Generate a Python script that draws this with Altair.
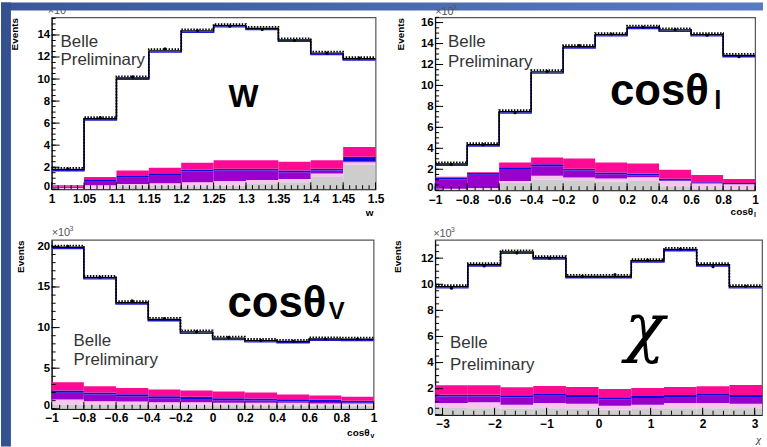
import altair as alt
import numpy as np
import pandas as pd

FONT = "Liberation Sans"

# ---------------- data (Events in units of 10^3) ----------------
COMP_NAMES = ["gray", "pink", "purple", "blue", "magenta"]
COMP_COLORS = ["#cdcdcd", "#f8c4f0", "#9900cc", "#0a0ad8", "#ff0a94"]

# --- w ---
W_EDGES = [1.0, 1.05, 1.1, 1.15, 1.2, 1.25, 1.3, 1.35, 1.4, 1.45, 1.5]
W_TOTAL = [1.80, 6.40, 10.10, 12.56, 14.37, 14.85, 14.60, 13.55, 12.35, 11.84]
W_DATA = [1.85, 6.50, 10.20, 12.75, 14.40, 14.80, 14.50, 13.50, 12.35, 11.90]
W_GRAY = [0.00, 0.05, 0.27, 0.30, 0.27, 0.33, 0.54, 0.63, 1.11, 2.23]
W_PINK = [0.12, 0.36, 0.48, 0.54, 0.63, 0.75, 0.84, 0.93, 1.42, 2.44]
W_PURPLE = [0.18, 0.74, 1.05, 1.30, 1.62, 1.70, 1.70, 1.53, 1.70, 2.55]
W_BLUE = [0.22, 0.90, 1.20, 1.46, 1.78, 1.86, 1.86, 1.69, 1.86, 2.95]
W_MAGENTA = [0.36, 1.11, 1.69, 1.96, 2.41, 2.62, 2.62, 2.50, 2.62, 3.83]

# --- cos theta_l ---
CL_EDGES = [-1.0, -0.8, -0.6, -0.4, -0.2, 0.0, 0.2, 0.4, 0.6, 0.8, 1.0]
CL_TOTAL = [2.50, 4.34, 7.50, 11.30, 13.70, 14.85, 15.56, 15.30, 14.85, 12.86]
CL_DATA = [2.45, 4.35, 7.40, 11.35, 13.80, 14.90, 15.55, 15.35, 14.80, 12.75]
CL_GRAY = [0.05, 0.05, 0.71, 1.03, 0.96, 0.80, 0.87, 0.39, 0.20, 0.15]
CL_PINK = [0.15, 0.22, 0.87, 1.38, 1.22, 1.13, 1.25, 0.87, 0.64, 0.58]
CL_PURPLE = [1.05, 1.47, 2.02, 2.30, 1.88, 1.52, 1.40, 0.92, 0.66, 0.58]
CL_BLUE = [1.22, 1.64, 2.19, 2.48, 2.06, 1.70, 1.58, 1.09, 0.76, 0.68]
CL_MAGENTA = [1.29, 1.72, 2.64, 3.12, 3.02, 2.64, 2.54, 1.96, 1.45, 1.06]

# --- cos theta_V ---
CV_EDGES = [-1.0, -0.8, -0.6, -0.4, -0.2, 0.0, 0.2, 0.4, 0.6, 0.8, 1.0]
CV_TOTAL = [19.90, 16.16, 13.06, 11.00, 9.47, 8.70, 8.40, 8.29, 8.60, 8.57]
CV_DATA = [20.00, 16.20, 13.30, 11.10, 9.50, 8.80, 8.40, 8.30, 8.60, 8.60]
CV_GRAY = [0.50, 0.48, 0.47, 0.45, 0.45, 0.43, 0.42, 0.42, 0.40, 0.40]
CV_PINK = [1.14, 0.94, 0.90, 0.82, 0.82, 0.73, 0.73, 0.73, 0.65, 0.65]
CV_PURPLE = [1.99, 1.75, 1.55, 1.30, 1.22, 1.06, 1.02, 0.93, 0.85, 0.73]
CV_BLUE = [2.24, 2.00, 1.80, 1.55, 1.47, 1.31, 1.27, 1.18, 1.10, 0.98]
CV_MAGENTA = [3.27, 2.78, 2.57, 2.37, 2.24, 2.12, 2.00, 1.76, 1.63, 1.47]

# --- chi ---
CHI_EDGES = [float(v) for v in np.linspace(-np.pi, np.pi, 11)]
CHI_TOTAL = [9.82, 11.50, 12.47, 12.03, 10.60, 10.60, 11.80, 12.67, 11.50, 9.82]
CHI_DATA = [9.70, 11.40, 12.40, 12.00, 10.60, 10.75, 11.85, 12.70, 11.35, 9.85]
CHI_GRAY = [0.51, 0.50, 0.46, 0.50, 0.48, 0.39, 0.45, 0.50, 0.50, 0.50]
CHI_PINK = [0.90, 0.95, 0.77, 0.90, 0.85, 0.69, 0.77, 0.90, 0.90, 0.85]
CHI_PURPLE = [1.39, 1.39, 1.34, 1.45, 1.37, 1.19, 1.29, 1.37, 1.45, 1.37]
CHI_BLUE = [1.54, 1.54, 1.49, 1.60, 1.52, 1.34, 1.44, 1.52, 1.60, 1.52]
CHI_MAGENTA = [2.26, 2.26, 2.10, 2.20, 2.13, 1.98, 2.06, 2.13, 2.18, 2.29]

# tick positions
W_XMAJ = [1.0, 1.05, 1.1, 1.15, 1.2, 1.25, 1.3, 1.35, 1.4, 1.45, 1.5]
CL_XMAJ = [-1.0, -0.8, -0.6, -0.4, -0.2, 0.0, 0.2, 0.4, 0.6, 0.8, 1.0]
CHI_XMAJ = [-3, -2, -1, 0, 1, 2, 3]
W_YMAJ = [0, 2, 4, 6, 8, 10, 12, 14]
CL_YMAJ = [0, 2, 4, 6, 8, 10, 12, 14, 16]
CV_YMAJ = [0, 5, 10, 15, 20]
CHI_YMAJ = [0, 2, 4, 6, 8, 10, 12]


def minor(lo, hi, step):
    return [float(v) for v in np.round(np.arange(lo, hi + 1e-9, step), 4)]


def dummy():
    return alt.Chart(pd.DataFrame({"a": [0]}))


def txt(text, x, y, size, weight="normal", align="left", baseline="alphabetic",
        font=FONT, style="normal", color="black"):
    return dummy().mark_text(
        text=text, align=align, baseline=baseline, font=font, fontSize=size,
        fontWeight=weight, fontStyle=style, color=color,
    ).encode(x=alt.value(x), y=alt.value(y))


def panel(edges, total, data, levels, ymax, W, H, xmaj, xmin, ymaj, ymin,
          xfmt, titlex, texts, extra=None):
    xs = alt.Scale(domain=[edges[0], edges[-1]], nice=False, zero=False)
    ys = alt.Scale(domain=[0, ymax], nice=False, zero=True)

    rows = []
    for i in range(len(total)):
        prev = 0.0
        for name, lv in zip(COMP_NAMES, levels):
            top = max(prev, lv[i])
            rows.append(dict(comp=name, lo=edges[i], hi=edges[i + 1], y0=prev, y1=top))
            prev = top
    comp_df = pd.DataFrame(rows)
    line_df = pd.DataFrame({"x": edges, "y": list(total) + [total[-1]]})
    pt_df = pd.DataFrame({"x": [(edges[i] + edges[i + 1]) / 2 for i in range(len(data))],
                          "y": data})

    xaxis = alt.Axis(values=xmaj, format=xfmt, title=None, grid=False, ticks=False,
                     labelFont=FONT, labelFontWeight="bold", labelFontSize=12,
                     labelColor="black", labelPadding=4, labelFlush=False,
                     labelOverlap=False, domainColor="black", domainWidth=1)
    yaxis = alt.Axis(values=ymaj, format="d", title="Events", grid=False, ticks=False,
                     labelFont=FONT, labelFontWeight="bold", labelFontSize=11.5,
                     labelColor="black", labelPadding=2, labelFlush=False,
                     labelOverlap=False, domainColor="black", domainWidth=1,
                     titleFont=FONT, titleFontSize=10, titleFontWeight="bold",
                     titleAnchor="end", titleX=titlex, titleColor="black",
                     labelOffset={"condition": {"test": "datum.value === 0", "value": -3},
                                  "value": 0})

    def X(f):
        return alt.X(f, type="quantitative", scale=xs, axis=xaxis)

    def Y(f):
        return alt.Y(f, type="quantitative", scale=ys, axis=yaxis)

    rect = alt.Chart(comp_df).mark_rect().encode(
        x=X("lo"), x2="hi:Q",
        y=Y("y0"), y2="y1:Q",
        color=alt.Color("comp:N", scale=alt.Scale(domain=COMP_NAMES, range=COMP_COLORS),
                        legend=None),
    )
    dotted = alt.Chart(line_df).mark_line(
        interpolate="step-after", color="black", strokeWidth=1.8,
        strokeDash=[1.5, 1.5], yOffset=-1.6).encode(x=X("x"), y=Y("y"))
    blue = alt.Chart(line_df).mark_line(
        interpolate="step-after", color="#1a1ad0", strokeWidth=1.4,
        yOffset=1.3).encode(x=X("x"), y=Y("y"))
    black = alt.Chart(line_df).mark_line(
        interpolate="step-after", color="black", strokeWidth=1.4).encode(x=X("x"), y=Y("y"))
    pts = alt.Chart(pt_df).mark_circle(size=10, color="black", opacity=1).encode(
        x=X("x"), y=Y("y"))

    xmaj_df = pd.DataFrame({"t": [float(v) for v in xmaj]})
    xmin_df = pd.DataFrame({"t": xmin})
    ymaj_df = pd.DataFrame({"t": [float(v) for v in ymaj]})
    ymin_df = pd.DataFrame({"t": ymin})
    tk = dict(color="black", strokeWidth=1)
    t1 = alt.Chart(xmaj_df).mark_rule(**tk).encode(x=X("t"), y=alt.value(H), y2=alt.value(H - 7))
    t2 = alt.Chart(xmin_df).mark_rule(**tk).encode(x=X("t"), y=alt.value(H), y2=alt.value(H - 4))
    t3 = alt.Chart(ymaj_df).mark_rule(**tk).encode(y=Y("t"), x=alt.value(0), x2=alt.value(8))
    t4 = alt.Chart(ymin_df).mark_rule(**tk).encode(y=Y("t"), x=alt.value(0), x2=alt.value(4))

    layers = [rect, dotted, blue, black, pts, t1, t2, t3, t4]
    for t in texts:
        layers.append(txt(**t))
    if extra:
        layers.extend(extra)
    return alt.layer(*layers).properties(width=W, height=H)


GRAYTXT = "#333333"


def belle(x, y1, y2):
    return [dict(text="Belle", x=x, y=y1, size=17, color=GRAYTXT),
            dict(text="Preliminary", x=x, y=y2, size=17, color=GRAYTXT)]


def x10(x, y):
    return [dict(text="\u00d710", x=x, y=y, size=11, color="#555555"),
            dict(text="3", x=x + 18, y=y - 5, size=7, color="#555555")]


# ---------------- panels ----------------
W1, H1 = 326, 173
W2, H2 = 322, 174
W3, H3 = 324, 170
W4, H4 = 329, 176

strip_grad = alt.Gradient(gradient="linear", x1=0, x2=1, y1=0, y2=0,
                          stops=[alt.GradientStop(color="#3a5897", offset=0),
                                 alt.GradientStop(color="#5a7bc2", offset=1)])
top_strip = dummy().mark_rect(color=strip_grad).encode(
    x=alt.value(-51), x2=alt.value(767 - 51), y=alt.value(-15), y2=alt.value(-7))
left_strip = dummy().mark_rect(color="#34508e").encode(
    x=alt.value(-51), x2=alt.value(-41), y=alt.value(-15), y2=alt.value(447 - 15))

p1 = panel(W_EDGES, W_TOTAL, W_DATA, [W_GRAY, W_PINK, W_PURPLE, W_BLUE, W_MAGENTA],
           15.6, W1, H1, W_XMAJ, minor(1.0, 1.5, 0.01), W_YMAJ, minor(0, 15.5, 0.5),
           "~g", -32,
           belle(9, 30, 48) + x10(-4, -3) + [
               dict(text="W", x=193, y=90, size=32, weight="bold", align="center"),
               dict(text="w", x=W1 - 2, y=H1 + 27, size=10, weight="bold", align="right"),
           ],
           extra=[top_strip, left_strip])

p2 = panel(CL_EDGES, CL_TOTAL, CL_DATA, [CL_GRAY, CL_PINK, CL_PURPLE, CL_BLUE, CL_MAGENTA],
           16.5, W2, H2, CL_XMAJ, minor(-1.0, 1.0, 0.05), CL_YMAJ, minor(0, 16.5, 0.5),
           "~g", -30,
           belle(13, 30, 50) + x10(0, -2) + [
               dict(text="cos\u03b8", x=176, y=88, size=44, weight="bold"),
               dict(text="l", x=281, y=92, size=26, weight="bold"),
               dict(text="cos\u03b8", x=W2 - 2, y=199, size=10, weight="bold", align="right"),
               dict(text="l", x=W2 - 1, y=201, size=7, weight="bold"),
           ])

p3 = panel(CV_EDGES, CV_TOTAL, CV_DATA, [CV_GRAY, CV_PINK, CV_PURPLE, CV_BLUE, CV_MAGENTA],
           20.8, W3, H3, CL_XMAJ, minor(-1.0, 1.0, 0.05), CV_YMAJ, minor(0, 20, 1),
           "~g", -26,
           belle(22, 107, 126) + x10(0, -4) + [
               dict(text="cos\u03b8", x=177, y=78, size=44, weight="bold"),
               dict(text="V", x=279, y=80, size=24, weight="bold"),
               dict(text="cos\u03b8", x=W3 - 4, y=H3 + 27, size=10, weight="bold", align="right"),
               dict(text="v", x=W3 - 3, y=H3 + 29, size=7, weight="bold"),
           ])

p4 = panel(CHI_EDGES, CHI_TOTAL, CHI_DATA, [CHI_GRAY, CHI_PINK, CHI_PURPLE, CHI_BLUE, CHI_MAGENTA],
           13.4, W4, H4, CHI_XMAJ, minor(-3.0, 3.0, 0.2), CHI_YMAJ, minor(0, 13, 0.5),
           "d", -33,
           belle(15, 109, 131) + x10(-2, -3) + [
               dict(text="\u03c7", x=211, y=90, size=66, align="center", baseline="middle",
                    font="DejaVu Serif", style="italic"),
               dict(text="\u03c7", x=W4 - 1, y=H4 + 28, size=11, align="right",
                    font="Liberation Serif", style="italic", color="#333333"),
           ])

chart = alt.concat(
    p1, p2, p3, p4, columns=2,
    spacing=alt.RowColnumber(row=50, column=60),
    align="none", bounds="flush",
).properties(padding=0, background="white").configure_view(
    stroke="#555555", strokeWidth=1.2
)

chart.save("out.html", embed_options={"renderer": "svg", "actions": False})
